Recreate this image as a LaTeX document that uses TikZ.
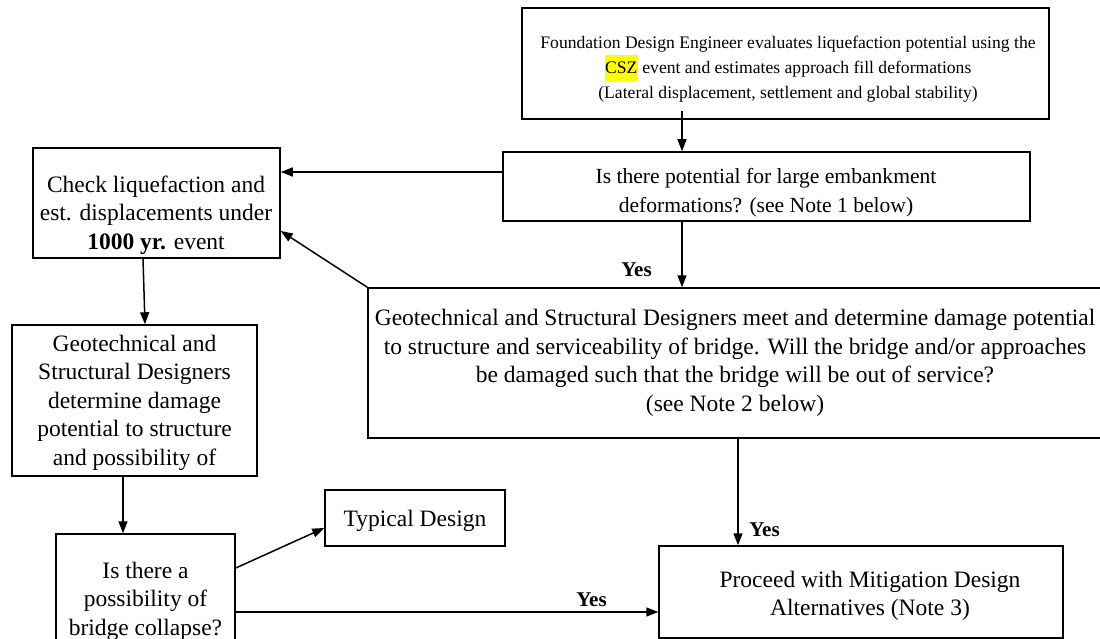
\documentclass[tikz,border=0pt]{standalone}
\usepackage{fontspec}
\setmainfont{Liberation Serif}
\usepackage{xcolor}
\usetikzlibrary{arrows.meta,calc}
\definecolor{hlyellow}{RGB}{255,255,0}
\newcommand{\hlcsz}[1]{{\setlength{\fboxsep}{0.5pt}\colorbox{hlyellow}{\strut #1}}}
\tikzset{
  box/.style={draw, line width=1.5pt, rectangle, inner sep=0pt},
  txt/.style={align=center, font=\fontsize{23.5}{28.5}\selectfont, inner sep=0pt},
  smalltxt/.style={align=center, font=\fontsize{17.6}{25}\selectfont, inner sep=0pt},
  midtxt/.style={align=center, font=\fontsize{21.6}{29}\selectfont, inner sep=0pt},
  arr/.style={line width=1.5pt, -{Triangle[length=12pt,width=9pt]}},
  yes/.style={font=\fontsize{21}{24}\selectfont\bfseries, inner sep=0pt}
}
\begin{document}
\begin{tikzpicture}[x=1pt,y=-1pt]
\fill[white] (0,0) rectangle (1100,639);
\clip (0,0) rectangle (1100,639);
% boxes
\node[box, minimum width=527pt, minimum height=111pt] (A) at (785.5,63.5) {};
\node[box, minimum width=527pt, minimum height=69pt] (B) at (766.5,186.5) {};
\node[box, minimum width=247pt, minimum height=110pt] (C) at (156.5,203) {};
\node[box, minimum width=734pt, minimum height=150pt] (D) at (735,363) {};
\node[box, minimum width=245pt, minimum height=151pt] (E) at (134.5,400.5) {};
\node[box, minimum width=179pt, minimum height=130pt] (F) at (145.5,599) {};
\node[box, minimum width=180pt, minimum height=56pt] (T) at (415,518) {};
\node[box, minimum width=404pt, minimum height=92pt] (G) at (861,592) {};
% texts
\node[smalltxt] (At) at (788,69) {Foundation Design Engineer evaluates liquefaction potential using the\\ \hlcsz{CSZ} event and estimates approach fill deformations\\ (Lateral displacement, settlement and global stability)};
\node[midtxt] (Bt) at (766,192.5) {Is there potential for large embankment\\ deformations? (see Note 1 below)};
\node[txt] (Ct) at (156,215) {Check liquefaction and\\ est. displacements under\\ \textbf{1000 yr.} event};
\node[txt] (Dt) at (735,363) {Geotechnical and Structural Designers meet and determine damage potential\\ to structure and serviceability of bridge. Will the bridge and/or approaches\\ be damaged such that the bridge will be out of service?\\ (see Note 2 below)};
\node[txt] (Et) at (134.5,402.5) {Geotechnical and\\ Structural Designers\\ determine damage\\ potential to structure\\ and possibility of};
\node[txt] (Ft) at (145.5,601) {Is there a\\ possibility of\\ bridge collapse?};
\node[txt] (Tt) at (415,521) {Typical Design};
\node[txt] (Gt) at (870,596) {Proceed with Mitigation Design\\ Alternatives (Note 3)};
% helper coordinates
\coordinate (xab) at (682,0);
\coordinate (ybc) at (0,172);
\coordinate (ydc) at (0,231);
\coordinate (xce) at (143,0);
\coordinate (xce2) at (145,0);
\coordinate (xef) at (123,0);
\coordinate (yft) at (0,568);
\coordinate (ytf) at (0,528);
\coordinate (yfg) at (0,612);
\coordinate (xdg) at (738,0);
% connectors
\draw[arr] ([yshift=9pt]A.south -| xab) -- (B.north -| xab);
\draw[arr] (B.west |- ybc) -- (C.east |- ybc);
\draw[arr] (B.south -| xab) -- (D.north -| xab);
\draw[arr] (D.north west) -- (C.east |- ydc);
\draw[arr] (C.south -| xce) -- (E.north -| xce2);
\draw[arr] (E.south -| xef) -- (F.north -| xef);
\draw[arr] (F.east |- yft) -- (T.west |- ytf);
\draw[arr] (F.east |- yfg) -- (G.west |- yfg);
\draw[arr] (D.south -| xdg) -- (G.north -| xdg);
% labels
\node[yes] (y1) at (636.5,270) {Yes};
\node[yes] (y2) at (764.5,530) {Yes};
\node[yes] (y3) at (591.5,600) {Yes};
\end{tikzpicture}
\end{document}
